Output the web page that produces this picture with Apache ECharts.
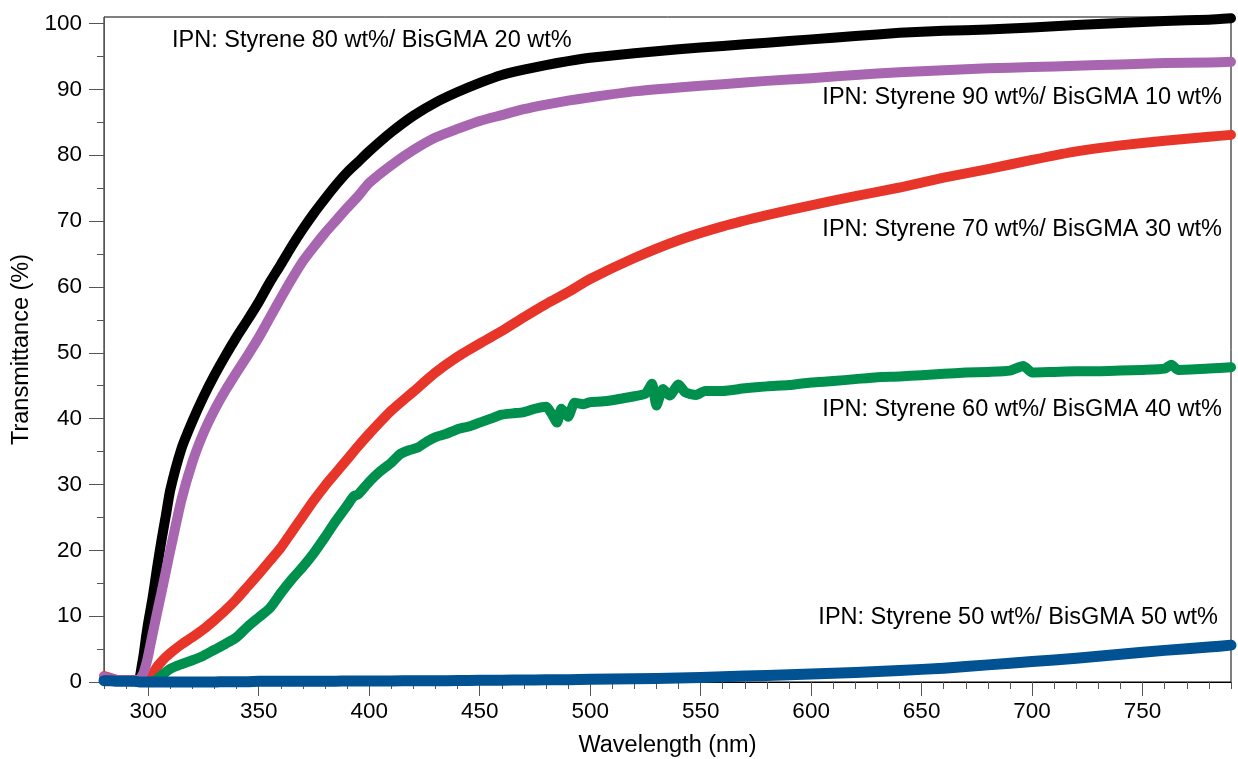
<!DOCTYPE html>
<html>
<head>
<meta charset="utf-8">
<script src="https://cdn.jsdelivr.net/npm/echarts@6/dist/echarts.min.js"></script>
<style>
  html, body { margin: 0; padding: 0; background: #fff; }
  #chart { width: 1238px; height: 759px; }
</style>
</head>
<body>
<div id="chart"></div>
<script>
// wavelength grid (nm) shared by the smooth curves
const wl = [280, 283, 286, 290, 294, 296, 297, 298, 299, 300, 302, 304, 306, 308, 310, 315, 320, 325, 330, 335,
  340, 345, 350, 355, 360, 365, 370, 375, 380, 385, 390, 395, 400, 410, 420, 430, 440, 450, 460, 470,
  480, 490, 500, 520, 540, 560, 580, 600, 620, 640, 660, 680, 700, 720, 740, 760, 780, 790];

// Styrene 80 / BisGMA 20
const s80 = [0.3, 0.3, 0.3, 0.3, 0.3, 0.6, 2.3, 4.3, 6.8, 9, 12.8, 17.3, 21.5, 25.3, 29.2, 35.4, 39.6, 43.3, 46.6, 49.6,
  52.4, 55, 57.7, 60.7, 63.4, 66.2, 68.8, 71.2, 73.4, 75.5, 77.4, 79, 80.6, 83.5, 86, 88, 89.6, 91, 92.2, 93,
  93.7, 94.3, 94.8, 95.5, 96.1, 96.6, 97.1, 97.6, 98.1, 98.6, 98.9, 99.1, 99.4, 99.8, 100.1, 100.4, 100.6, 100.8];

// Styrene 90 / BisGMA 10
const s90 = [0.8, 0.5, 0.3, 0.3, 0.3, 0.3, 0.8, 1.5, 2.6, 4, 7.3, 10.5, 13.6, 16.8, 20, 27.6, 33.4, 37.8, 41.3, 44.3,
  47, 49.6, 52.3, 55.3, 58.3, 61.2, 63.9, 66.1, 68.2, 70.1, 72, 73.8, 75.8, 78.5, 80.8, 82.7, 84, 85.2, 86.1, 87,
  87.7, 88.3, 88.8, 89.7, 90.3, 90.8, 91.3, 91.7, 92.2, 92.6, 92.9, 93.2, 93.4, 93.6, 93.8, 94, 94.1, 94.2];

// Styrene 70 / BisGMA 30
const s70 = [0.9, 0.6, 0.3, 0.2, 0.1, 0, 0, 0, 0.1, 0.3, 1.2, 2.3, 3.1, 3.8, 4.4, 5.7, 6.8, 8, 9.4, 10.9,
  12.6, 14.5, 16.4, 18.4, 20.4, 22.8, 25.2, 27.6, 29.8, 31.8, 33.8, 35.8, 37.7, 41.2, 44.1, 47, 49.4, 51.4, 53.3, 55.4,
  57.4, 59.2, 61.2, 64.4, 67.1, 69.2, 70.9, 72.4, 73.8, 75.1, 76.6, 77.9, 79.3, 80.6, 81.5, 82.2, 82.8, 83.1];

// Styrene 50 / BisGMA 50
const s50 = [0.2, 0.2, 0.1, 0.1, 0.1, 0, 0, 0, 0, 0, 0, 0, 0, 0, 0, 0, 0, 0, 0, 0.05,
  0.05, 0.05, 0.1, 0.1, 0.1, 0.1, 0.1, 0.1, 0.12, 0.12, 0.15, 0.15, 0.15, 0.17, 0.2, 0.2, 0.22, 0.25, 0.28, 0.3,
  0.33, 0.36, 0.4, 0.5, 0.6, 0.8, 1.0, 1.2, 1.45, 1.75, 2.1, 2.6, 3.1, 3.6, 4.2, 4.8, 5.3, 5.6];

// Styrene 60 / BisGMA 40 (noisy trace, own grid)
const wlG = [300, 303, 306, 310, 315, 320, 325, 330, 335, 340, 345, 350, 355, 360, 365, 370, 375, 380, 385, 390,
  393, 395, 400, 405, 410, 414, 418, 422, 426, 430, 435, 440, 445, 450, 455, 460, 465, 470, 475, 480,
  483, 485, 487, 490, 493, 497, 500, 505, 510, 515, 520, 525, 528, 530, 533, 536, 540, 543, 548, 552,
  560, 570, 580, 590, 600, 610, 620, 630, 640, 650, 660, 670, 680, 690, 696, 700, 710, 720, 730, 740,
  750, 760, 763, 766, 780, 790];
const s60 = [0, 0.2, 1, 2, 2.7, 3.3, 4, 4.9, 5.8, 6.8, 8.4, 9.8, 11.2, 13.5, 15.6, 17.5, 19.6, 22, 24.5, 26.8,
  28.2, 28.5, 30.4, 32, 33.3, 34.6, 35.2, 35.6, 36.5, 37.2, 37.7, 38.4, 38.8, 39.4, 40, 40.6, 40.8, 41, 41.5, 41.8,
  40.5, 39.4, 41.5, 40.3, 42.4, 42.2, 42.5, 42.6, 42.8, 43.1, 43.4, 43.8, 45.3, 42, 44.5, 43.5, 45.2, 44, 43.6, 44.2,
  44.2, 44.6, 44.9, 45.1, 45.5, 45.7, 46, 46.3, 46.4, 46.6, 46.8, 47, 47.1, 47.3, 48, 47, 47.1, 47.2, 47.2, 47.3,
  47.4, 47.6, 48.2, 47.4, 47.6, 47.8];

const xMajor = [300, 350, 400, 450, 500, 550, 600, 650, 700, 750];
const xMinor = [];
for (let v = 280; v <= 790; v += 10) xMinor.push(v);
const yMajor = [0, 10, 20, 30, 40, 50, 60, 70, 80, 90, 100];
const yMinor = [5, 15, 25, 35, 45, 55, 65, 75, 85, 95];

const labels = [
  { text: 'IPN: Styrene 80 wt%/ BisGMA 20 wt%', x: 172, y: 41, align: 'left' },
  { text: 'IPN: Styrene 90 wt%/ BisGMA 10 wt%', x: 1222, y: 98, align: 'right' },
  { text: 'IPN: Styrene 70 wt%/ BisGMA 30 wt%', x: 1222, y: 230, align: 'right' },
  { text: 'IPN: Styrene 60 wt%/ BisGMA 40 wt%', x: 1222, y: 410, align: 'right' },
  { text: 'IPN: Styrene 50 wt%/ BisGMA 50 wt%', x: 1218, y: 618, align: 'right' }
];

const FONT = '"Liberation Sans", Arial, Helvetica, sans-serif';

function pairs(xs, ys) {
  return xs.map((x, i) => [x, ys[i]]);
}

function curve(name, xs, ys, color, w) {
  return {
    name: name,
    type: 'line',
    data: pairs(xs, ys),
    showSymbol: false,
    smooth: 0.2,
    clip: false,
    lineStyle: { color: color, width: w, cap: 'round', join: 'round' },
    z: 3
  };
}

const chart = echarts.init(document.getElementById('chart'));
chart.setOption({
  animation: false,
  backgroundColor: '#fff',
  grid: {
    left: 104, right: 7, top: 17, bottom: 77,
    outerBoundsMode: 'none',
    show: true, borderColor: '#000', borderWidth: 1, backgroundColor: 'transparent'
  },
  xAxis: [
    {
      type: 'value', min: 280, max: 790,
      name: 'Wavelength (nm)', nameLocation: 'middle', nameGap: 52,
      nameTextStyle: { fontFamily: FONT, fontSize: 23.5, color: '#000' },
      axisLine: { show: true, lineStyle: { color: '#000', width: 1 } },
      axisTick: { show: true, customValues: xMajor, length: 14, lineStyle: { color: '#555' } },
      axisLabel: { customValues: xMajor, margin: 18, fontFamily: FONT, fontSize: 22.5, color: '#000' },
      splitLine: { show: false }
    },
    {
      type: 'value', min: 280, max: 790, position: 'bottom',
      axisLine: { show: false },
      axisTick: { show: true, customValues: xMinor, length: 7, lineStyle: { color: '#555' } },
      axisLabel: { show: false },
      splitLine: { show: false }
    }
  ],
  yAxis: [
    {
      type: 'value', min: 0, max: 101,
      name: 'Transmittance (%)', nameLocation: 'middle', nameGap: 70,
      nameTextStyle: { fontFamily: FONT, fontSize: 23.5, color: '#000' },
      axisLine: { show: true, lineStyle: { color: '#555', width: 1 } },
      axisTick: { show: true, customValues: yMajor, length: 15, lineStyle: { color: '#555' } },
      axisLabel: { customValues: yMajor, margin: 22, fontFamily: FONT, fontSize: 22.5, color: '#000' },
      splitLine: { show: false }
    },
    {
      type: 'value', min: 0, max: 101, position: 'left',
      axisLine: { show: false },
      axisTick: { show: true, customValues: yMinor, length: 7, lineStyle: { color: '#555' } },
      axisLabel: { show: false },
      splitLine: { show: false }
    }
  ],
  series: [
    curve('Styrene 70 wt%/ BisGMA 30 wt%', wl, s70, '#e8352a', 10),
    curve('Styrene 60 wt%/ BisGMA 40 wt%', wlG, s60, '#00904e', 10),
    curve('Styrene 80 wt%/ BisGMA 20 wt%', wl, s80, '#000000', 10),
    curve('Styrene 90 wt%/ BisGMA 10 wt%', wl, s90, '#a866b0', 10),
    curve('Styrene 50 wt%/ BisGMA 50 wt%', wl, s50, '#005293', 11)
  ],
  graphic: labels.map(l => ({
    type: 'text',
    x: l.x, y: l.y, z: 10,
    style: {
      text: l.text, fill: '#000',
      font: '23.5px ' + FONT,
      textAlign: l.align, textVerticalAlign: 'middle'
    }
  }))
});
</script>
</body>
</html>
